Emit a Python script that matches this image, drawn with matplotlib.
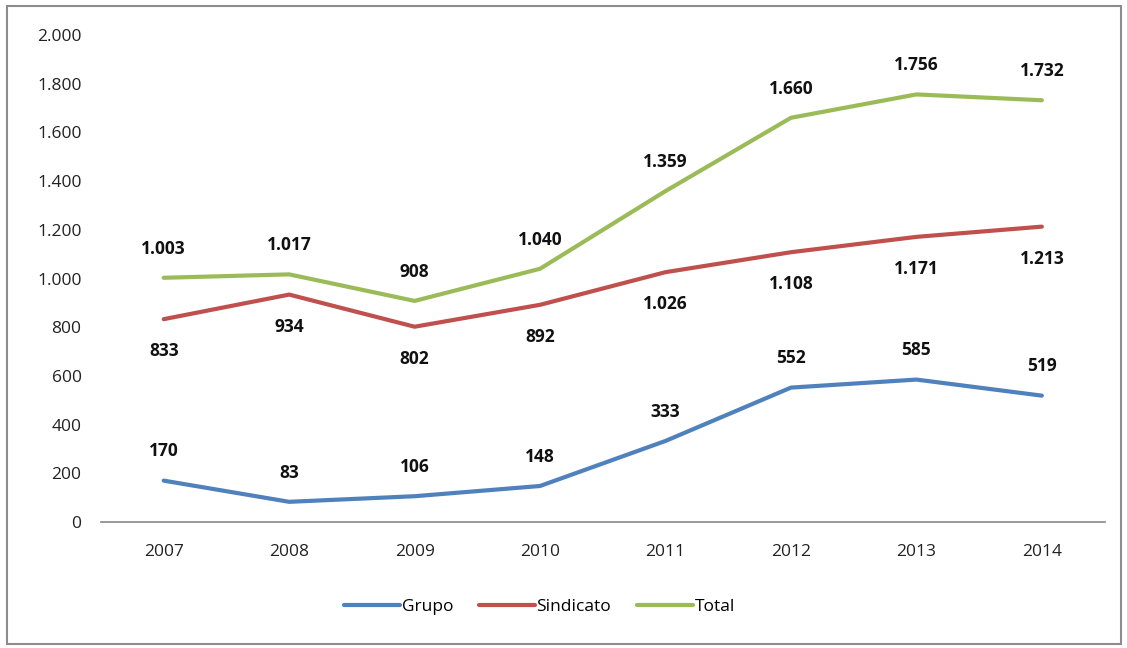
import matplotlib
matplotlib.use('Agg')
import matplotlib.pyplot as plt
from matplotlib.patches import Rectangle
from matplotlib.ticker import FuncFormatter

years = ['2007', '2008', '2009', '2010', '2011', '2012', '2013', '2014']
grupo = [170, 83, 106, 148, 333, 552, 585, 519]
sindicato = [833, 934, 802, 892, 1026, 1108, 1171, 1213]
total = [1003, 1017, 908, 1040, 1359, 1660, 1756, 1732]

BLUE = '#4F81BD'
RED = '#C0504D'
GREEN = '#9BBB59'

plt.rcParams['font.family'] = ['Open Sans', 'DejaVu Sans']


def fmt_thousands(v):
    return f'{int(round(v)):,}'.replace(',', '.')


fig = plt.figure(figsize=(11.27, 6.48), dpi=100)
ax = fig.add_axes([0.0896, 0.1944, 0.8905, 0.7516])

x = list(range(len(years)))
series = [
    ('Grupo', grupo, BLUE, 21),
    ('Sindicato', sindicato, RED, -23),
    ('Total', total, GREEN, 21),
]
for name, vals, color, dy in series:
    ax.plot(x, vals, color=color, lw=3, label=name, solid_capstyle='round')
    for xi, v in zip(x, vals):
        ax.annotate(fmt_thousands(v), (xi, v), xytext=(0, dy),
                    textcoords='offset points', ha='center', va='center',
                    fontsize=12.5, fontweight='bold', color='#111111')

ax.set_xlim(-0.5, len(years) - 0.5)
ax.set_ylim(0, 2000)
ax.set_yticks(range(0, 2001, 200))
ax.yaxis.set_major_formatter(FuncFormatter(lambda v, p: fmt_thousands(v)))
ax.set_xticks(x)
ax.set_xticklabels(years)
ax.tick_params(axis='both', length=0, labelsize=12.5, colors='#222222')
ax.tick_params(axis='y', pad=14)
ax.tick_params(axis='x', pad=16)
for s in ['top', 'right', 'left']:
    ax.spines[s].set_visible(False)
ax.spines['bottom'].set_color('#888888')
ax.spines['bottom'].set_linewidth(1.2)

ax.legend(loc='center', bbox_to_anchor=(0.437, -0.175), ncol=3, frameon=False,
          fontsize=12.5, handlelength=3.2, handletextpad=0.1, columnspacing=1.5)

fig.patches.append(Rectangle((0.006, 0.006), 0.989, 0.985, transform=fig.transFigure,
                             fill=False, edgecolor='#8c8c8c', lw=1.5))

fig.savefig('out.png', dpi=100)
